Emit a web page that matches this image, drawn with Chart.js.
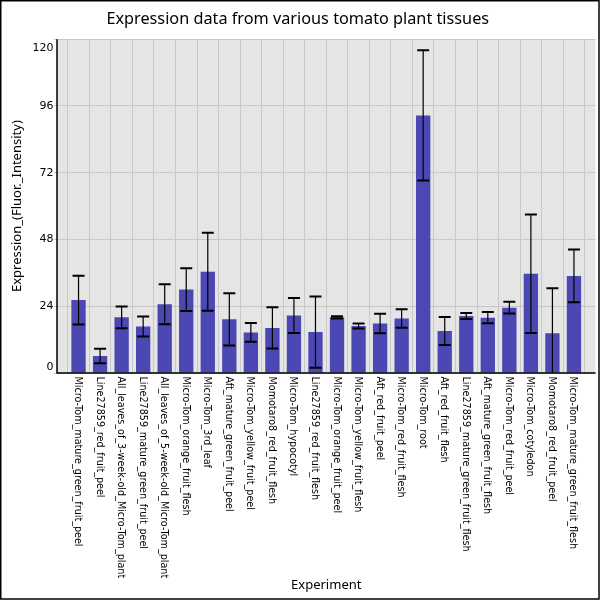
<!DOCTYPE html>
<html>
<head>
<meta charset="utf-8">
<script src="https://cdn.jsdelivr.net/npm/chart.js@4.4.1/dist/chart.umd.min.js"></script>
<style>
html,body{margin:0;padding:0;background:#fff;}
canvas{display:block;}
</style>
</head>
<body>
<canvas id="c" width="600" height="600"></canvas>
<script>
const categories = [
  "Micro-Tom_mature_green_fruit_peel",
  "Line27859_red_fruit_peel",
  "All_leaves_of_3-week-old_Micro-Tom_plant",
  "Line27859_mature_green_fruit_peel",
  "All_leaves_of_5-week-old_Micro-Tom_plant",
  "Micro-Tom_orange_fruit_flesh",
  "Micro-Tom_3rd_leaf",
  "Aft_mature_green_fruit_peel",
  "Micro-Tom_yellow_fruit_peel",
  "Momotaro8_red_fruit_flesh",
  "Micro-Tom_hypocotyl",
  "Line27859_red_fruit_flesh",
  "Micro-Tom_orange_fruit_peel",
  "Micro-Tom_yellow_fruit_flesh",
  "Aft_red_fruit_peel",
  "Micro-Tom_red_fruit_flesh",
  "Micro-Tom_root",
  "Aft_red_fruit_flesh",
  "Line27859_mature_green_fruit_flesh",
  "Aft_mature_green_fruit_flesh",
  "Micro-Tom_red_fruit_peel",
  "Micro-Tom_cotyledon",
  "Momotaro8_red_fruit_peel",
  "Micro-Tom_mature_green_fruit_flesh"
];
const means  = [26.2, 6.1, 20.0, 16.7, 24.7, 30.0, 36.4, 19.3, 14.6, 16.2, 20.7, 14.7, 20.0, 16.9, 17.8, 19.6, 92.6, 15.1, 20.5, 19.9, 23.5, 35.7, 14.3, 34.9];
const errors = [8.8, 2.6, 3.9, 3.6, 7.2, 7.7, 14.0, 9.4, 3.4, 7.4, 6.3, 12.8, 0.4, 0.9, 3.5, 3.3, 23.4, 5.0, 1.1, 2.0, 2.1, 21.3, 16.2, 9.5];
const yTicks = [0, 24, 48, 72, 96, 120];

const labels = [""].concat(categories, [""]);
const data = [null].concat(means, [null]);

const custom = {
  id: 'custom',
  beforeDraw(chart) {
    const {ctx, chartArea: a} = chart;
    ctx.save();
    ctx.fillStyle = '#ffffff';
    ctx.fillRect(0, 0, chart.width, chart.height);
    ctx.fillStyle = '#e5e5e5';
    ctx.fillRect(a.left, a.top, a.right - a.left, a.bottom - a.top);
    ctx.restore();
  },
  afterDatasetsDraw(chart) {
    const {ctx, chartArea: a} = chart;
    const y = chart.scales.y;
    const meta = chart.getDatasetMeta(0);
    ctx.save();
    ctx.beginPath();
    ctx.rect(a.left, a.top, a.right - a.left, a.bottom - a.top);
    ctx.clip();
    ctx.strokeStyle = '#000';
    for (let i = 0; i < means.length; i++) {
      const el = meta.data[i + 1];
      const x = el.x;
      const yt = y.getPixelForValue(means[i] + errors[i]);
      const yb = y.getPixelForValue(means[i] - errors[i]);
      ctx.lineWidth = 1.2;
      ctx.beginPath();
      ctx.moveTo(x, yt); ctx.lineTo(x, yb);
      ctx.stroke();
      ctx.lineWidth = 2;
      ctx.beginPath();
      ctx.moveTo(x - 6, yt); ctx.lineTo(x + 6, yt);
      ctx.moveTo(x - 6, yb); ctx.lineTo(x + 6, yb);
      ctx.stroke();
    }
    ctx.restore();
    ctx.save();
    ctx.strokeStyle = '#000';
    ctx.lineWidth = 1.5;
    ctx.beginPath();
    ctx.moveTo(a.left, a.top);
    ctx.lineTo(a.left, a.bottom);
    ctx.lineTo(a.right, a.bottom);
    ctx.stroke();
    ctx.restore();
  },
  afterDraw(chart) {
    const {ctx, chartArea: a} = chart;
    const xs = chart.scales.x, ys = chart.scales.y;
    ctx.save();
    ctx.fillStyle = '#000';
    ctx.font = '9.6px "DejaVu Sans"';
    ctx.textAlign = 'left';
    ctx.textBaseline = 'middle';
    categories.forEach((c, i) => {
      const x = xs.getPixelForValue(i + 1);
      ctx.save();
      ctx.translate(x - 1, a.bottom + 3.5);
      ctx.rotate(Math.PI / 2);
      ctx.fillText(c, 0, 0);
      ctx.restore();
    });
    ctx.font = '11px "DejaVu Sans"';
    ctx.textAlign = 'right';
    yTicks.forEach(v => {
      let py = ys.getPixelForValue(v);
      py = Math.min(Math.max(py, a.top + 8.5), a.bottom - 6);
      ctx.fillText(String(v), a.left - 3.5, py);
    });
    ctx.strokeStyle = '#000';
    ctx.lineWidth = 1.5;
    ctx.strokeRect(0.75, 0.75, 598.25, 598.25);
    ctx.restore();
  }
};

new Chart(document.getElementById('c'), {
  type: 'bar',
  data: {
    labels: labels,
    datasets: [{
      data: data,
      backgroundColor: '#4b47b3',
      borderWidth: 0,
      barPercentage: 0.665,
      categoryPercentage: 1.0
    }]
  },
  options: {
    responsive: false,
    animation: false,
    devicePixelRatio: 1,
    layout: { padding: { left: 0, right: 4.5, top: 0, bottom: 0 } },
    plugins: {
      legend: { display: false },
      tooltip: { enabled: false },
      title: {
        display: true,
        text: 'Expression data from various tomato plant tissues',
        color: '#000',
        font: { family: 'Noto Sans', size: 16.25, weight: 'normal' },
        padding: { top: 10, bottom: 9.7 }
      }
    },
    scales: {
      x: {
        type: 'category',
        offset: false,
        grid: { color: '#c8c8c8', lineWidth: 1, drawTicks: false },
        border: { display: false },
        ticks: { display: false },
        title: {
          display: true,
          text: 'Experiment',
          color: '#000',
          font: { family: 'Noto Sans', size: 13 },
          padding: { top: 0, bottom: 7.2 }
        },
        afterFit(scale) { scale.height = 227; }
      },
      y: {
        min: 0,
        max: 120,
        grid: { color: '#c8c8c8', lineWidth: 1, drawTicks: true, tickLength: 3 },
        border: { display: false },
        ticks: { display: false },
        afterBuildTicks(scale) { scale.ticks = yTicks.map(v => ({ value: v })); },
        title: {
          display: true,
          text: 'Expression_(Fluor._Intensity)',
          color: '#000',
          font: { family: 'Noto Sans', size: 13 },
          padding: { top: 9, bottom: 0 }
        },
        afterFit(scale) { scale.width = 57; }
      }
    }
  },
  plugins: [custom]
});
</script>
</body>
</html>
